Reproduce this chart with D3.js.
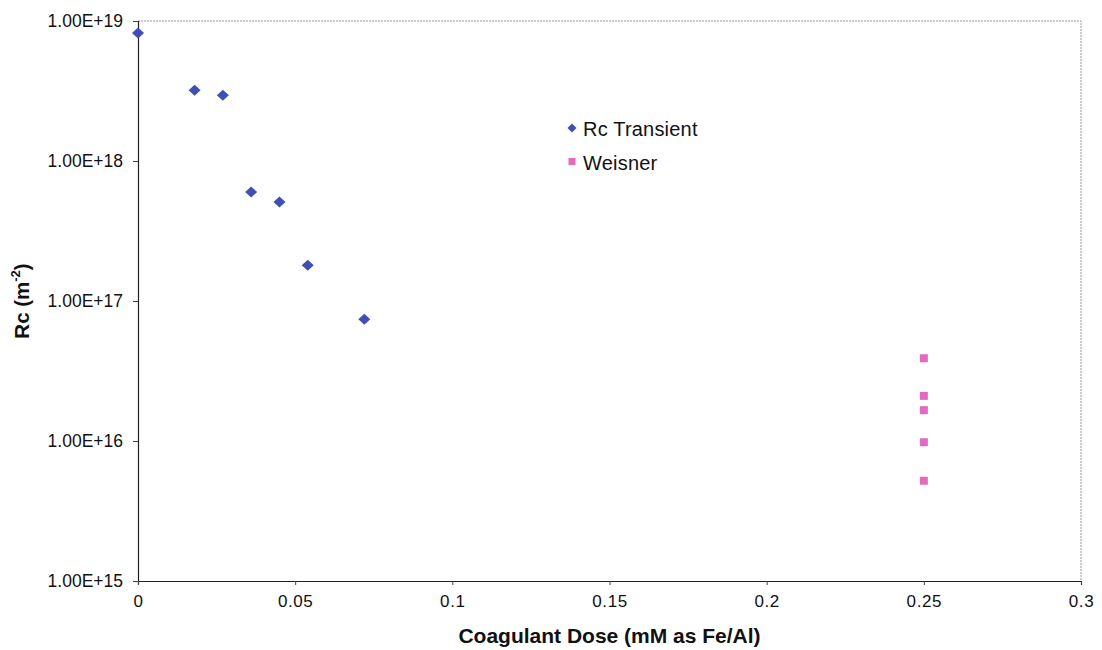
<!DOCTYPE html>
<html>
<head>
<meta charset="utf-8">
<script src="https://cdn.jsdelivr.net/npm/d3@7"></script>
<style>
  html, body { margin: 0; padding: 0; background: #fff; }
  svg { display: block; font-family: "Liberation Sans", Arial, sans-serif; }
</style>
</head>
<body>
<svg id="chart" width="1102" height="650"></svg>
<script>
// Coagulant dose (mM as Fe/Al) and cake resistance Rc (m^-2)
const transientDose = [0, 0.018, 0.027, 0.036, 0.045, 0.054, 0.072];
const transientRc   = [8.2e18, 3.2e18, 2.95e18, 6.0e17, 5.1e17, 1.8e17, 7.4e16];
const weisnerDose   = [0.25, 0.25, 0.25, 0.25, 0.25];
const weisnerRc     = [3.9e16, 2.1e16, 1.66e16, 9.8e15, 5.2e15];
const xTicks = [0, 0.05, 0.1, 0.15, 0.2, 0.25, 0.3];
const yTicks = [1e15, 1e16, 1e17, 1e18, 1e19];
const seriesNames = ["Rc Transient", "Weisner"];

const svg = d3.select("#chart");
const m = { left: 138, right: 1081, top: 21, bottom: 581 };

const x = d3.scaleLinear().domain([0, 0.3]).range([m.left, m.right]);
const y = d3.scaleLog().domain([1e15, 1e19]).range([m.bottom, m.top]);

// Dotted frame on the top and right edges
svg.append("path")
  .attr("d", `M${m.left},${m.top}H${m.right}V${m.bottom}`)
  .attr("fill", "none")
  .attr("stroke", "#999")
  .attr("stroke-width", 1)
  .attr("stroke-dasharray", "2,1");

// Axes
const yAxis = d3.axisLeft(y).tickValues(yTicks).tickSize(5).tickPadding(10)
  .tickFormat(d => d.toExponential(2).toUpperCase());
const xAxis = d3.axisBottom(x).tickValues(xTicks).tickSize(4).tickPadding(10)
  .tickFormat(d => d === 0 ? "0" : String(+d.toFixed(2)));

const gy = svg.append("g").attr("transform", `translate(${m.left},0)`).call(yAxis);
const gx = svg.append("g").attr("transform", `translate(0,${m.bottom})`).call(xAxis);

[gx, gy].forEach(g => {
  g.attr("font-family", null).attr("font-size", null);
  g.select(".domain").attr("stroke", "#222").attr("stroke-width", 1.2);
  g.selectAll(".tick line").attr("stroke", "#444");
  g.selectAll(".tick text").attr("fill", "#111");
});
gy.selectAll(".tick text").style("font-size", "17.5px");
gx.selectAll(".tick text").style("font-size", "17px").style("letter-spacing", "0.6px");

// Axis titles
svg.append("text")
  .attr("x", (m.left + m.right) / 2)
  .attr("y", 643)
  .attr("text-anchor", "middle")
  .style("font-size", "21px")
  .attr("font-weight", "bold")
  .attr("fill", "#111")
  .text("Coagulant Dose (mM as Fe/Al)");

const yt = svg.append("text")
  .attr("transform", "translate(29,301) rotate(-90)")
  .attr("text-anchor", "middle")
  .style("font-size", "20.5px")
  .attr("font-weight", "bold")
  .attr("fill", "#111");
yt.append("tspan").text("Rc (m");
yt.append("tspan").style("font-size", "13px").attr("dy", -9).text("-2");
yt.append("tspan").attr("dy", 9).text(")");

// Markers
const blue = "#3f4fb3";
const pink = "#e26bbd";
const diamondPath = (w, h) => `M0,${-h}L${w},0L0,${h}L${-w},0Z`;

svg.append("g").selectAll("path")
  .data(transientDose.map((d, i) => [d, transientRc[i]]))
  .join("path")
  .attr("d", diamondPath(6, 5.5))
  .attr("transform", d => `translate(${x(d[0])},${y(d[1])})`)
  .attr("fill", blue);

svg.append("g").selectAll("rect")
  .data(weisnerDose.map((d, i) => [d, weisnerRc[i]]))
  .join("rect")
  .attr("x", d => x(d[0]) - 4)
  .attr("y", d => y(d[1]) - 4)
  .attr("width", 8)
  .attr("height", 8)
  .attr("fill", pink);

// Legend
const lg = svg.append("g").attr("transform", "translate(572,128)");
lg.append("path").attr("d", diamondPath(4.5, 4.5)).attr("fill", blue);
lg.append("rect").attr("x", -3.5).attr("y", 30).attr("width", 7).attr("height", 7).attr("fill", pink);
lg.selectAll("text").data(seriesNames).join("text")
  .attr("x", 11)
  .attr("y", (d, i) => 4 + i * 34)
  .attr("dy", "0.2em")
  .style("font-size", "20px")
  .style("letter-spacing", "0.2px")
  .attr("fill", "#111")
  .text(d => d);
</script>
</body>
</html>
